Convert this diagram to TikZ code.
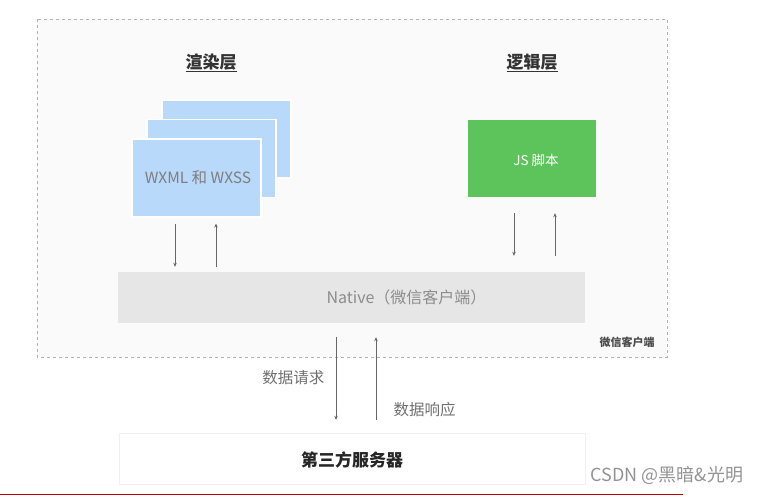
\documentclass[tikz,border=0pt]{standalone}
\usepackage{fontspec}
\setmainfont{Noto Sans CJK SC}
\usetikzlibrary{arrows.meta,positioning,calc}
\definecolor{cardblue}{HTML}{B9D9FA}
\definecolor{jsgreen}{HTML}{5DC45B}
\definecolor{nativegray}{HTML}{E6E6E6}
\definecolor{textgray}{HTML}{707070}
\begin{document}
\begin{tikzpicture}[
    x=1pt, y=-1pt,
    client/.style={draw=gray!60, dashed, line width=0.8pt, fill=gray!4},
    title/.style={font=\fontsize{17}{17}\selectfont\bfseries, text=black!80},
    card/.style={fill=cardblue, draw=white, line width=1.2pt, minimum width=129pt, minimum height=78pt, inner sep=0pt},
    jsbox/.style={fill=jsgreen, minimum width=128pt, minimum height=77pt, inner sep=0pt},
    bar/.style={fill=nativegray, minimum width=467pt, minimum height=51pt, inner sep=0pt},
    server/.style={draw=gray!12, fill=white, minimum width=466pt, minimum height=51pt, inner sep=0pt},
    arrow/.style={draw=gray!80!black, line width=0.8pt, -{Stealth[length=4pt,width=3.5pt]}},
    label/.style={font=\fontsize{15.5}{15.5}\selectfont, text=textgray}
]
\useasboundingbox (0,0) rectangle (761,497);

% WeChat client frame
\draw[client] (37,19) rectangle (667,357);
\node[font=\fontsize{11}{11}\selectfont\bfseries, text=black!70] (clientname) at (627,342) {微信客户端};

% Layer titles
\node[title] (viewtitle) at (211,63) {\underline{渲染层}};
\node[title] (logictitle) at (532,63) {\underline{逻辑层}};

% Render layer: stacked pages
\node[card] (pageback) at (226.5,139) {};
\node[card] (pagemid) at (211.5,158.5) {};
\node[card] (pagefront) at (196.5,178) {};
\node[label, text=textgray!90] (pagetext) at ([xshift=1.5pt]pagefront.center) {WXML 和 WXSS};

% Logic layer
\node[jsbox] (js) at (532,158.5) {};
\node[font=\fontsize{13.5}{13.5}\selectfont, text=white] (jstext) at ([xshift=4pt,yshift=-1.5pt]js.center) {JS 脚本};

% Native
\node[bar] (native) at (351.5,297.5) {};
\node[font=\fontsize{16}{16}\selectfont, text=gray!90] (nativetext) at ([xshift=55pt]native.center) {Native（微信客户端）};

% Third-party server
\node[server] (srv) at (352,458.5) {};
\node[font=\fontsize{17}{17}\selectfont\bfseries, text=black!85] (srvtext) at ([yshift=-1.5pt]srv.center) {第三方服务器};

% Render <-> Native
\draw[arrow, shorten <=6pt, shorten >=5pt] ([xshift=-21.5pt]pagefront.south) -- ([xshift=-21.5pt]pagefront.south |- native.north);
\draw[arrow, shorten <=5pt, shorten >=6pt] ([xshift=19.5pt]pagefront.south |- native.north) -- ([xshift=19.5pt]pagefront.south);

% Logic <-> Native
\draw[arrow, shorten <=16pt, shorten >=16pt] ([xshift=-18pt]js.south) -- ([xshift=-18pt]js.south |- native.north);
\draw[arrow, shorten <=16pt, shorten >=16pt] ([xshift=23pt]js.south |- native.north) -- ([xshift=23pt]js.south);

% Native <-> server
\draw[arrow, shorten <=14pt, shorten >=13pt] ([xshift=-15.5pt]native.south) -- ([xshift=-15.5pt]native.south |- srv.north)
    node[label, pos=0.5, left=8pt] (req) {数据请求};
\draw[arrow, shorten <=13pt, shorten >=14pt] ([xshift=24.5pt]native.south |- srv.north) -- ([xshift=24.5pt]native.south)
    node[label, pos=0.21, right=14pt] (resp) {数据响应};

% Watermark and bottom bar
\node[font=\fontsize{18}{18}\selectfont, text=gray!85] (mark) at (667,475) {CSDN @黑暗\&光明};
\coordinate (barL) at (0,494.5);
\coordinate (barR) at (683,494.5);
\draw[red!75!black, line width=1.2pt] (barL) -- (barR);
\end{tikzpicture}
\end{document}
